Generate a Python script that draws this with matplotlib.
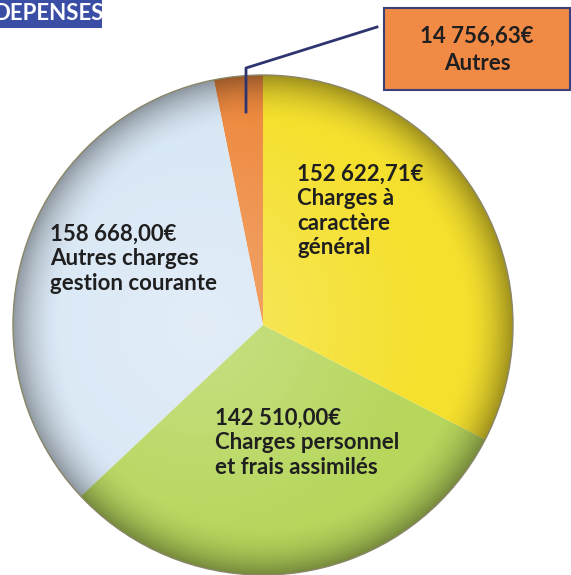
import matplotlib.pyplot as plt
import numpy as np
from matplotlib.patches import Circle, Rectangle

# data (counterclockwise from top)
labels = ['Autres', 'Autres charges\ngestion courante', 'Charges personnel\net frais assimilés',
          'Charges à\ncaractère\ngénéral']
amounts = [14756.63, 158668.00, 142510.00, 152622.71]
amount_txt = ['14 756,63€', '158 668,00€', '142 510,00€', '152 622,71€']
colors = ['#EE8A40', '#D8E7F5', '#B6D65C', '#F5E02E']

W, H = 571, 575
fig = plt.figure(figsize=(W / 100, H / 100), dpi=100)
ax = fig.add_axes([0, 0, 1, 1])

cx, cy, R = 263, H - 325, 250
wedges, _ = ax.pie(amounts, colors=colors, startangle=90, counterclock=True,
                   center=(cx, cy), radius=R, frame=True,
                   wedgeprops=dict(linewidth=0))
ax.set_xlim(0, W)
ax.set_ylim(0, H)
ax.axis('off')

# radial shading to mimic the glossy look
n = 400
yy, xx = np.mgrid[-1:1:n * 1j, -1:1:n * 1j]
r = np.sqrt(xx ** 2 + yy ** 2)
shade = np.zeros((n, n, 4))
shade[..., 3] = np.clip((r - 0.80) / 0.20, 0, 1) ** 2 * 0.35
img = ax.imshow(shade, extent=(cx - R, cx + R, cy - R, cy + R), zorder=3,
                interpolation='bilinear')
img.set_clip_path(Circle((cx, cy), R, transform=ax.transData))
hl = np.zeros((n, n, 4))
hl[..., :3] = 1
hl[..., 3] = np.clip(1 - np.sqrt((xx + 0.25) ** 2 + yy ** 2) / 0.9, 0, 1) * 0.25
img2 = ax.imshow(hl, extent=(cx - R, cx + R, cy - R, cy + R), zorder=3,
                 interpolation='bilinear')
img2.set_clip_path(Circle((cx, cy), R, transform=ax.transData))
ax.add_patch(Circle((cx, cy), R, fill=False, ec='#8A8668', lw=1.0, zorder=4))

font = dict(family=['Lato', 'DejaVu Sans'], fontweight='bold', color='#1F1F1F',
            fontsize=16, linespacing=1.2, va='top', ha='left', zorder=5)

# inside labels (top-left positions in pixels)
ax.text(50, H - 224, amount_txt[1] + '\n' + labels[1], **font)
ax.text(215, H - 408, amount_txt[2] + '\n' + labels[2], **font)
ax.text(297, H - 164, amount_txt[3] + '\n' + labels[3], **font)

# callout for Autres
ax.plot([246, 246, 377], [H - 112, H - 68, H - 27], color='#2E3470', lw=2, zorder=5)
ax.add_patch(Rectangle((384, H - 90), 186, 82, fc='#F08A45', ec='#3B3F7A', lw=1.5, zorder=5))
ax.text(477, H - 50, amount_txt[0] + '\n' + labels[0], family=['Lato', 'DejaVu Sans'],
        fontweight='bold', color='#1F1F1F', fontsize=16, linespacing=1.35,
        ha='center', va='center', zorder=6)

# title tag
ax.add_patch(Rectangle((0, H - 28), 102, 28, fc='#3B4EA6', ec='none', zorder=5))
ax.text(-7, H - 14, 'DEPENSES', family=['Lato', 'DejaVu Sans'], fontweight='bold',
        color='white', fontsize=16, ha='left', va='center', zorder=6)

fig.savefig('out.png', dpi=100)
